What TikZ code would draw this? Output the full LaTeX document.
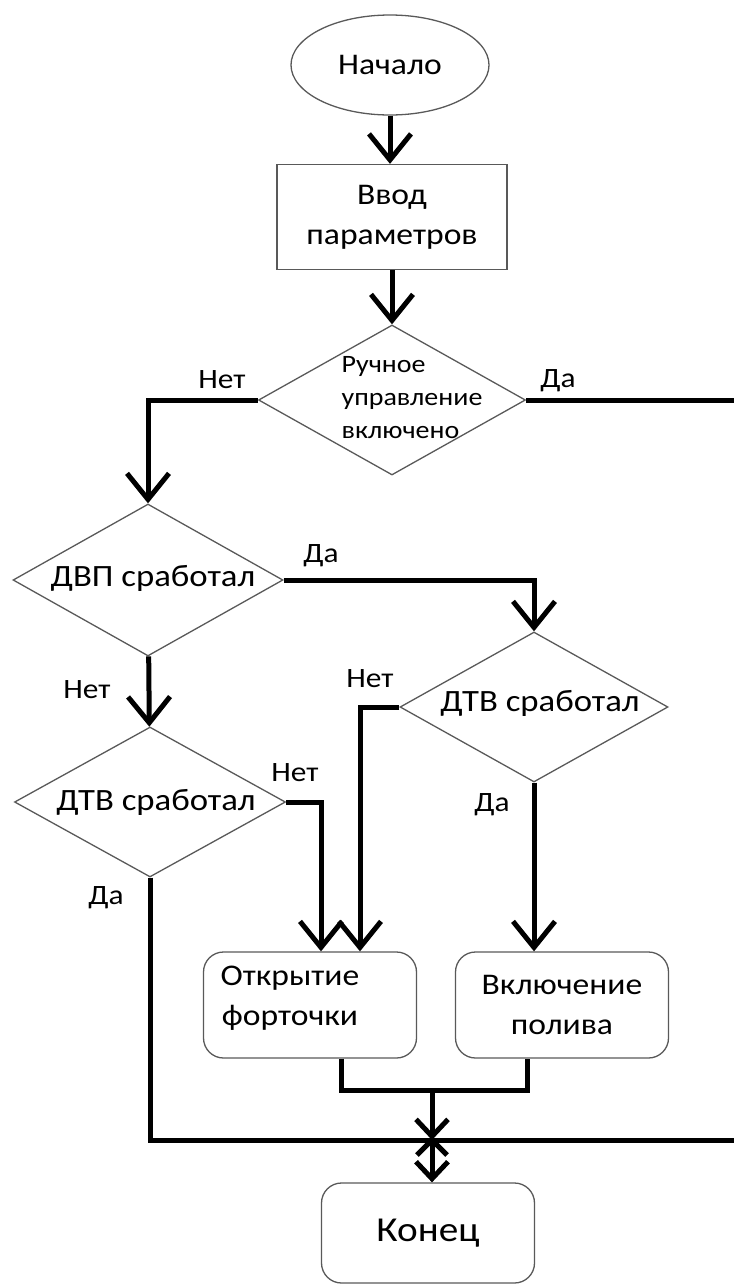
\documentclass[tikz,border=0pt]{standalone}
\usepackage{fontspec}
\setmainfont{Carlito}[FakeStretch=1.12]
\usetikzlibrary{shapes.geometric,arrows.meta}
\tikzset{
  shp/.style={draw=black!65, line width=1.3pt},
  term/.style={shp, ellipse, minimum width=198pt, minimum height=100pt},
  proc/.style={shp, rectangle, minimum width=230pt, minimum height=105pt, align=center},
  act/.style={shp, rectangle, rounded corners=20pt, minimum width=213pt, minimum height=106pt, align=center},
  cond/.style={shp, diamond, inner sep=0pt},
  lbl/.style={font=\fontsize{28}{34}\selectfont},
  wire/.style={line width=5pt},
  arr/.style={wire, -{Straight Barb[length=26pt,width=42pt]}},
  arrm/.style={wire, -{Straight Barb[length=17pt,width=32pt]}},
}
\begin{document}
\begin{tikzpicture}[x=1pt, y=-1pt, font=\fontsize{30}{40}\selectfont]
  \useasboundingbox (0,0) rectangle (734,1286);
  % blocks
  \node[term] (start) at (390,65) {Начало};
  \node[proc] (input) at (392,217) {Ввод\\параметров};
  \node[cond, minimum width=267pt, minimum height=150pt] (d1) at (392,400) {};
  \node[align=left, font=\fontsize{25}{33}\selectfont] (d1t) at (412,398) {Ручное\\управление\\включено};
  \node[cond, minimum width=270pt, minimum height=152pt] (d2) at (148,580) {};
  \node[font=\fontsize{31}{36}\selectfont] (d2t) at (153,578) {ДВП сработал};
  \node[cond, minimum width=268pt, minimum height=150pt] (d3) at (534,707) {};
  \node[font=\fontsize{31}{36}\selectfont] (d3t) at (540,703) {ДТВ сработал};
  \node[cond, minimum width=271pt, minimum height=150pt] (d4) at (150,802) {};
  \node[font=\fontsize{31}{36}\selectfont] (d4t) at (156,802) {ДТВ сработал};
  \node[act] (open) at (310,1005) {};
  \node[align=center] (opent) at (290,998) {Открытие\\форточки};
  \node[act] (water) at (562,1005) {Включение\\полива};
  \node[act, minimum height=100pt, font=\fontsize{35}{40}\selectfont] (end) at (428,1233) {Конец};
  % labels
  \node[lbl] (n1) at (222,380) {Нет};
  \node[lbl] (y1) at (558,381) {Да};
  \node[lbl] (y2) at (321,556) {Да};
  \node[lbl] (n2) at (87,690) {Нет};
  \node[lbl] (n3) at (370,679) {Нет};
  \node[lbl] (n4) at (295,773) {Нет};
  \node[lbl] (y3) at (492,805) {Да};
  \node[lbl] (y4) at (106,898) {Да};
  % connectors
  \coordinate (rt) at (734,400);
  \coordinate (rb) at (734,1140);
  \coordinate (mg) at (432,1090);
  \coordinate (jn) at (432,1140);
  \draw[arr] (start.south) -- (start.south |- input.north);
  \draw[arr] (input) -- (d1);
  \draw[arr] (d1.west) -| (d2.north);
  \draw[wire] (d1.east) -- (rt);
  \draw[arr] (d2.east) -| (d3.north);
  \draw[arr] (d2) -- (d4);
  \draw[arr] (d3.west) -| ([xshift=50pt]open.north);
  \draw[arr] (d4.east) -| ([xshift=11pt]open.north);
  \draw[arr] (d3.south) -- (d3.south |- water.north);
  \draw[wire] (d4.south) |- (rb);
  \draw[wire] ([xshift=31pt]open.south) |- (mg) -| ([xshift=-35pt]water.south);
  \draw[arrm] (mg) -- (jn);
  \draw[wire] (jn) ++(-15,15) -- (jn) -- ++(15,15);
  \draw[arrm] (jn) -- (jn |- end.north);
\end{tikzpicture}
\end{document}
